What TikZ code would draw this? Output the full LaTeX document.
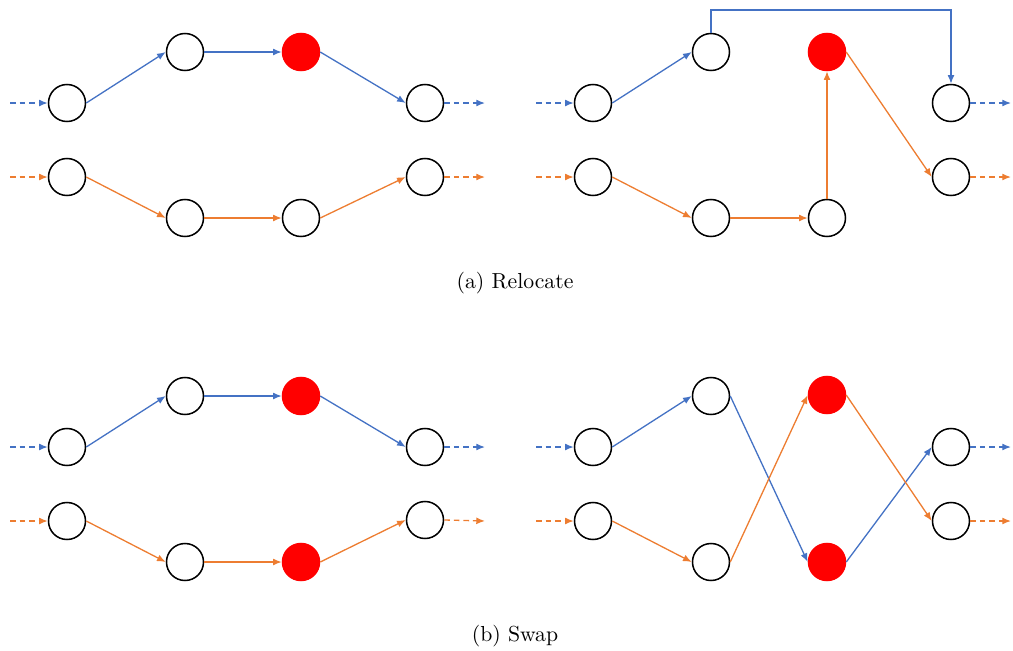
\documentclass[tikz,border=0pt]{standalone}
\usetikzlibrary{arrows.meta}
\definecolor{bl}{HTML}{4472C4}
\definecolor{og}{HTML}{ED7D31}
\begin{document}
\begin{tikzpicture}[x=0.46pt,y=-0.46pt,
  nd/.style={circle,draw=black,line width=0.7pt,minimum size=37*0.46pt,inner sep=0pt},
  rd/.style={circle,fill=red,draw=red,line width=0.7pt,minimum size=37*0.46pt,inner sep=0pt},
  ar/.style={line width=0.6pt,-{Latex[length=4pt,width=3.2pt]}},
  bar/.style={ar,draw=bl},
  oar/.style={ar,draw=og},
  dsh/.style={dash pattern=on 2.6pt off 1.8pt}]
\useasboundingbox (0,0) rectangle (1013,650);
\foreach \dy/\s in {0/a,344/b}{
  \begin{scope}[yshift=-\dy*0.46pt]
  % left panel
  \node[nd] (\s A) at (67,103) {};
  \node[nd] (\s B) at (185,52) {};
  \node[rd] (\s C) at (301,52) {};
  \node[nd] (\s D) at (425,103) {};
  \node[nd] (\s E) at (67,177) {};
  \node[nd] (\s F) at (185,218) {};
  \coordinate (\s ib) at (10,103);
  \coordinate (\s io) at (10,177);
  \coordinate (\s ob) at (485,103);
  \coordinate (\s oo) at (485,177);
  \draw[bar,dsh] (\s ib) -- (\s A.west);
  \draw[oar,dsh] (\s io) -- (\s E.west);
  \draw[bar] (\s A.east) -- (\s B.west);
  \draw[bar] (\s B.east) -- (\s C.west);
  \draw[bar] (\s C.east) -- (\s D.west);
  \draw[bar,dsh] (\s D.east) -- (\s ob);
  % right panel
  \node[nd] (\s A2) at (593,103) {};
  \node[nd] (\s B2) at (711,52) {};
  \node[nd] (\s D2) at (951,103) {};
  \node[nd] (\s E2) at (593,177) {};
  \node[nd] (\s F2) at (711,218) {};
  \node[nd] (\s H2) at (951,177) {};
  \coordinate (\s ib2) at (536,103);
  \coordinate (\s io2) at (536,177);
  \coordinate (\s ob2) at (1011,103);
  \coordinate (\s oo2) at (1011,177);
  \draw[bar,dsh] (\s ib2) -- (\s A2.west);
  \draw[oar,dsh] (\s io2) -- (\s E2.west);
  \draw[bar] (\s A2.east) -- (\s B2.west);
  \draw[oar] (\s E2.east) -- (\s F2.west);
  \draw[bar,dsh] (\s D2.east) -- (\s ob2);
  \draw[oar,dsh] (\s H2.east) -- (\s oo2);
  \end{scope}
}
% (a) specifics
\node[nd] (aG) at (301,218) {};
\node[nd] (aH) at (425,177) {};
\draw[oar] (aE.east) -- (aF.west);
\draw[oar] (aF.east) -- (aG.west);
\draw[oar] (aG.east) -- (aH.west);
\draw[oar,dsh] (aH.east) -- (aoo);
\node[rd] (aC2) at (827,52) {};
\node[nd] (aG2) at (827,218) {};
\draw[oar] (aF2.east) -- (aG2.west);
\draw[oar] (aG2.north) -- (aC2.south);
\draw[oar] (aC2.east) -- (aH2.west);
\coordinate (aT) at (0,10);
\draw[bar] (aB2.north) -- (aB2.north |- aT) -| (aD2.north);
\node[font=\normalsize] (capa) at (515,283) {(a) Relocate};
% (b) specifics
\node[rd] (bG) at (301,562) {};
\node[nd] (bH) at (425,520) {};
\draw[oar] (bE.east) -- (bF.west);
\draw[oar] (bF.east) -- (bG.west);
\draw[oar] (bG.east) -- (bH.west);
\draw[oar,dsh] (bH.east) -- (boo);
\node[rd] (bC2) at (827,395) {};
\node[rd] (bG2) at (827,562) {};
\draw[bar] (bB2.east) -- (bG2.west);
\draw[bar] (bG2.east) -- (bD2.west);
\draw[oar] (bF2.east) -- (bC2.west);
\draw[oar] (bC2.east) -- (bH2.west);
\node[font=\normalsize] (capb) at (515,636) {(b) Swap};
\end{tikzpicture}
\end{document}
